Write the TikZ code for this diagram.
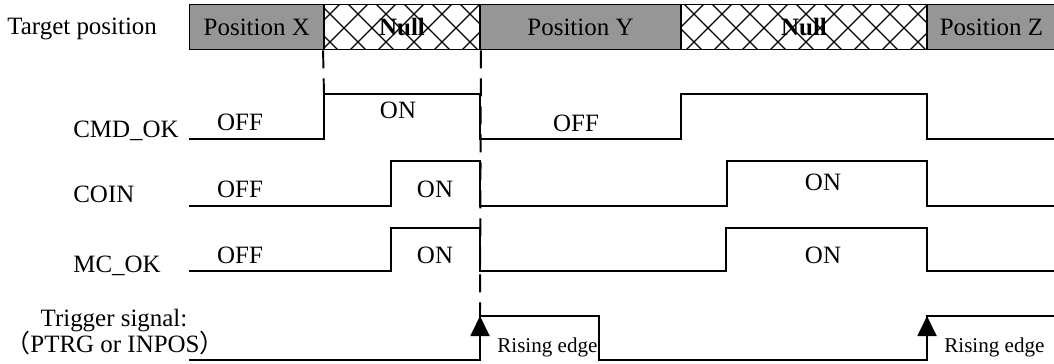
\documentclass[tikz,border=0pt]{standalone}
\usepackage{fontspec}
\setmainfont{Liberation Serif}
\newfontfamily\cjkfont{Noto Sans CJK SC}
\usetikzlibrary{arrows.meta}
\definecolor{cellgray}{RGB}{150,150,150}

\begin{document}
\begin{tikzpicture}[
    x=0.02cm, y=-0.02cm,
    every node/.style={font=\fontsize{14.2}{17}\selectfont, inner sep=0pt},
    poscell/.style={draw, fill=cellgray, line width=1.1pt, minimum height=0.9cm},
    nullcell/.style={draw, line width=1.1pt, minimum height=0.9cm,
      font=\fontsize{14.2}{17}\selectfont\bfseries},
    hatch/.style={line width=0.75pt},
    sig/.style={line width=1.1pt, line join=miter},
    guide/.style={line width=1.1pt, dash pattern=on 0.36cm off 0.2cm},
    rise/.style={line width=1.1pt, -{Triangle[length=0.4cm, width=0.38cm]}},
    sname/.style={anchor=base west},
    lvl/.style={anchor=base},
    edgelbl/.style={font=\fontsize{12}{14}\selectfont, anchor=base west},
  ]
  \useasboundingbox (0,0) rectangle (1054,363);

  \begin{scope}
    \clip (324,4.5) rectangle (480,49.5) (681,4.5) rectangle (927,49.5);
    \foreach \k in {0,...,26}
      \draw[hatch] (260+\k*28,0) -- ++(60,60) (260+\k*28,0) -- ++(-60,60);
  \end{scope}

  \node[anchor=base west] (target) at (7,34) {Target position};
  \node[poscell, minimum width=2.69cm] (posx) at (256.75,27) {Position X};
  \node[nullcell, minimum width=3.12cm] (nulla) at (402,27) {Null};
  \node[poscell, minimum width=4.02cm] (posy) at (580.5,27) {Position Y};
  \node[nullcell, minimum width=4.92cm] (nullb) at (804,27) {Null};
  \node[poscell, minimum width=2.58cm] (posz) at (991.5,27) {Position Z};

  \draw[guide] (nulla.south west) -- (324,94);
  \draw[guide] (nulla.south east) -- (480,316);

  \node[sname] (cmd) at (73,137) {CMD\_OK};
  \node[sname] (coin) at (73,202) {COIN};
  \node[sname] (mcok) at (73,272) {MC\_OK};
  \node[lvl] (trig) at (114,326) {Trigger signal:};
  \node[lvl] (trigsrc) at (115,352) {{\cjkfont （}PTRG or INPOS{\cjkfont ）}};

  \draw[sig] (189,139) -- (324,139) -- (324,94) -- (480,94) -- (480,139)
    -- (681,139) -- (681,94) -- (927,94) -- (927,139) -- (1054,139);
  \draw[sig] (189,206) -- (391,206) -- (391,161) -- (480,161) -- (480,206)
    -- (727,206) -- (727,161) -- (927,161) -- (927,206) -- (1054,206);
  \draw[sig] (189,271) -- (391,271) -- (391,228) -- (480,228) -- (480,271)
    -- (726,271) -- (726,228) -- (927,228) -- (927,271) -- (1054,271);
  \draw[sig] (189,360) -- (480,360) -- (480,316) -- (599,316) -- (599,360)
    -- (927,360) -- (927,316) -- (1054,316);

  \coordinate (riseAlo) at (480,360);
  \coordinate (riseAhi) at (480,316);
  \coordinate (riseBlo) at (927,360);
  \coordinate (riseBhi) at (927,316);
  \draw[rise] (riseAlo) -- (riseAhi);
  \draw[rise] (riseBlo) -- (riseBhi);

  \node[lvl] (cmdoff) at (240,130) {OFF};
  \node[lvl] (cmdon) at (398,118) {ON};
  \node[lvl] (cmdoff2) at (576,131) {OFF};
  \node[lvl] (coinoff) at (240,197) {OFF};
  \node[lvl] (coinon) at (435,197) {ON};
  \node[lvl] (coinon2) at (823,190) {ON};
  \node[lvl] (mcoff) at (240,263) {OFF};
  \node[lvl] (mcon) at (435,263) {ON};
  \node[lvl] (mcon2) at (823,263) {ON};

  \node[edgelbl] (edgea) at (497,352) {Rising edge};
  \node[edgelbl] (edgeb) at (944,352) {Rising edge};
\end{tikzpicture}
\end{document}
